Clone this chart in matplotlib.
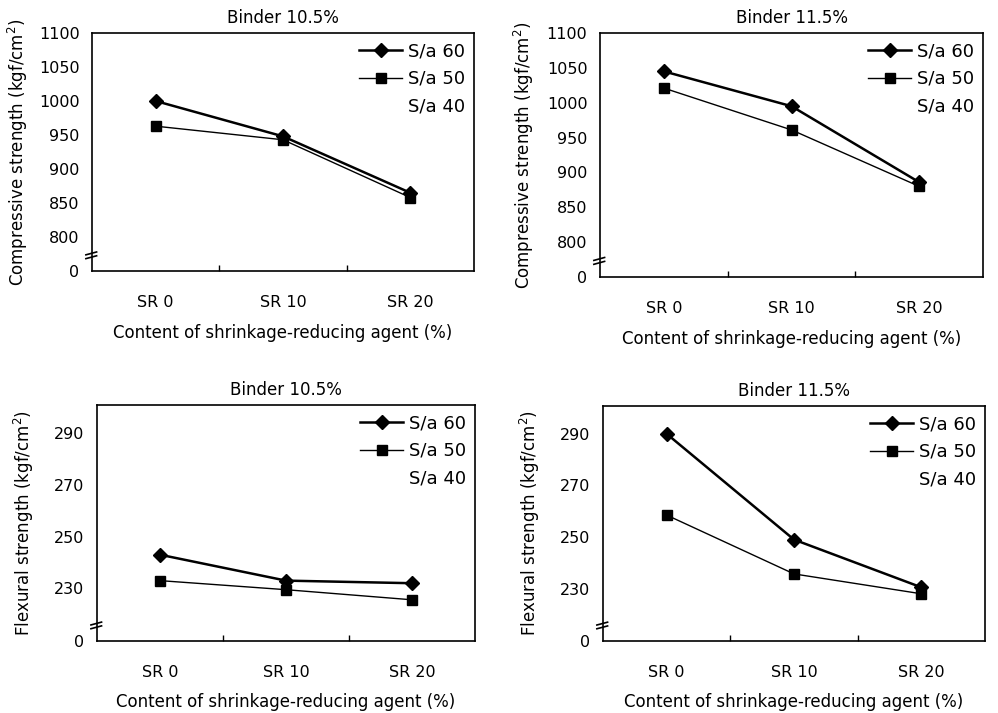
import matplotlib
matplotlib.use("Agg")
import matplotlib.pyplot as plt
from matplotlib.lines import Line2D

plt.rcParams['font.family'] = ['DejaVu Sans']

categories = ["SR 0", "SR 10", "SR 20"]
series_labels = ["S/a 60", "S/a 50", "S/a 40"]

comp_105_sa60 = [1000, 948, 865]
comp_105_sa50 = [963, 943, 858]
comp_115_sa60 = [1045, 995, 886]
comp_115_sa50 = [1021, 961, 880]
flex_105_sa60 = [243, 233, 232]
flex_105_sa50 = [233, 229.5, 225.6]
flex_115_sa60 = [290, 249, 230.5]
flex_115_sa50 = [258.5, 235.7, 228]

comp_ticks = [750, 800, 850, 900, 950, 1000, 1050, 1100]
comp_ticklabels = ["0", "800", "850", "900", "950", "1000", "1050", "1100"]
flex_ticks = [209.7, 230, 250, 270, 290]
flex_ticklabels = ["0", "230", "250", "270", "290"]

titles = ["Binder 10.5%", "Binder 11.5%", "Binder 10.5%", "Binder 11.5%"]
xlabel = "Content of shrinkage-reducing agent (%)"
ylab_comp = "Compressive strength (kgf/cm$^2$)"
ylab_flex = "Flexural strength (kgf/cm$^2$)"

fig = plt.figure(figsize=(9.98, 7.13), dpi=100)

panels = [
    ([0.0922, 0.6199, 0.3828, 0.3338], comp_105_sa60, comp_105_sa50, (750, 1100), comp_ticks, comp_ticklabels, ylab_comp, titles[0], 6),
    ([0.6012, 0.6115, 0.3838, 0.3422], comp_115_sa60, comp_115_sa50, (750, 1100), comp_ticks, comp_ticklabels, ylab_comp, titles[1], 8),
    ([0.0972, 0.1010, 0.3788, 0.3310], flex_105_sa60, flex_105_sa50, (209.7, 300.8), flex_ticks, flex_ticklabels, ylab_flex, titles[2], 13),
    ([0.6042, 0.1010, 0.3828, 0.3296], flex_115_sa60, flex_115_sa50, (209.7, 300.8), flex_ticks, flex_ticklabels, ylab_flex, titles[3], 13),
]

x = list(range(len(categories)))

for rect, s60, s50, ylim, yt, ytl, ylab, title, lpad in panels:
    ax = fig.add_axes(rect)
    ax.plot(x, s60, color='black', lw=1.8, marker='D', markersize=7, label=series_labels[0])
    ax.plot(x, s50, color='black', lw=1.0, marker='s', markersize=7.5, label=series_labels[1])
    ax.plot([], [], linestyle='none', marker='none', label=series_labels[2])
    ax.set_xlim(-0.5, 2.5)
    ax.set_ylim(*ylim)
    ax.set_xticks(x)
    ax.set_xticklabels(categories, fontsize=11.5)
    ax.set_xticks([0.5, 1.5], minor=True)
    ax.tick_params(axis='x', which='major', length=0, pad=17)
    ax.tick_params(axis='x', which='minor', direction='in', length=4, width=1)
    ax.set_yticks(yt)
    ax.set_yticklabels(ytl, fontsize=11.5)
    ax.tick_params(axis='y', length=0, pad=9)
    for sp in ax.spines.values():
        sp.set_linewidth(1.2)
    ax.set_title(title, fontsize=12, pad=7)
    ax.set_xlabel(xlabel, fontsize=12, labelpad=10)
    ax.set_ylabel(ylab, fontsize=12, labelpad=lpad)
    ax.legend(loc='upper right', frameon=False, fontsize=13, handlelength=2.4,
              handletextpad=0.3, labelspacing=0.55, borderaxespad=0.1)
    # axis break marks
    for dy in (0.0, 0.016):
        ax.add_line(Line2D([-0.016, 0.012], [0.052 + dy, 0.064 + dy], transform=ax.transAxes,
                           color='black', lw=1.2, clip_on=False))

fig.savefig("out.png", dpi=100)
